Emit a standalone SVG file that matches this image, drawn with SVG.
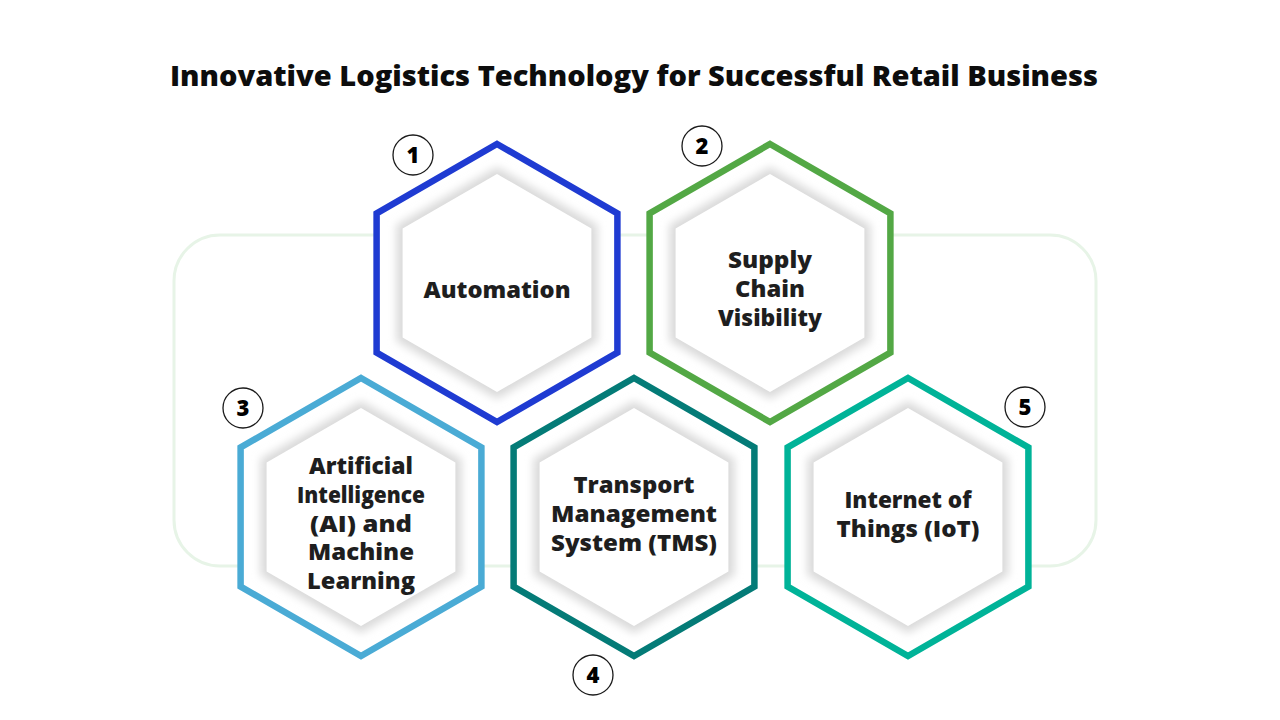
<svg xmlns="http://www.w3.org/2000/svg" width="1280" height="720" viewBox="0 0 1280 720">
<defs>
<style>
.title{font-family:"Open Sans","Liberation Sans",sans-serif;font-weight:800;font-size:28.5px;fill:#0d0d0d;text-anchor:middle}
.lbl{font-family:"Open Sans","Liberation Sans",sans-serif;font-weight:800;font-size:23.5px;fill:#1e1e1e;text-anchor:middle}
.lbl.s{font-size:22px}
.num{font-family:"Open Sans","Liberation Sans",sans-serif;font-weight:800;font-size:22px;fill:#000;text-anchor:middle}
.ncirc{fill:#fff;stroke:#1a1a1a;stroke-width:1.3}
.outer{fill:#fff;stroke-width:6.5;stroke-linejoin:miter}
.shade{fill:#dadada;filter:url(#blur)}
.inner{fill:#fff}
</style>
<filter id="blur" x="-20%" y="-20%" width="140%" height="140%"><feGaussianBlur stdDeviation="4.5"/></filter>
<path id="hexO" d="M0,-139 L120.4,-69.5 L120.4,69.5 L0,139 L-120.4,69.5 L-120.4,-69.5Z"/>
<path id="hexS" d="M0,-116 L100.5,-58 L100.5,58 L0,116 L-100.5,58 L-100.5,-58Z"/>
<path id="hexI" d="M0,-109 L94.4,-54.5 L94.4,54.5 L0,109 L-94.4,54.5 L-94.4,-54.5Z"/>
</defs>
<rect width="1280" height="720" fill="#fff"/>
<text class="title" x="634" y="86" textLength="928" lengthAdjust="spacingAndGlyphs">Innovative Logistics Technology for Successful Retail Business</text>
<rect id="frame" x="174" y="235" width="922" height="331" rx="46" ry="46" fill="none" stroke="#e7f4e7" stroke-width="3"/>

<g id="node1" transform="translate(497,283)">
<use href="#hexO" class="outer" stroke="#1f3bd2"/>
<use href="#hexS" class="shade"/>
<use href="#hexI" class="inner"/>
<text class="lbl" x="0" y="15" textLength="147" lengthAdjust="spacingAndGlyphs">Automation</text>
</g>
<g id="node2" transform="translate(770,283)">
<use href="#hexO" class="outer" stroke="#53a845"/>
<use href="#hexS" class="shade"/>
<use href="#hexI" class="inner"/>
<text class="lbl" x="0" y="-15" textLength="84" lengthAdjust="spacingAndGlyphs">Supply</text>
<text class="lbl" x="0" y="14" textLength="70" lengthAdjust="spacingAndGlyphs">Chain</text>
<text class="lbl" x="0" y="43" textLength="104" lengthAdjust="spacingAndGlyphs">Visibility</text>
</g>
<g id="node3" transform="translate(361,517)">
<use href="#hexO" class="outer" stroke="#4aabd5"/>
<use href="#hexS" class="shade"/>
<use href="#hexI" class="inner"/>
<text class="lbl s" x="0" y="-43" textLength="104" lengthAdjust="spacingAndGlyphs">Artificial</text>
<text class="lbl s" x="0" y="-14.25" textLength="128" lengthAdjust="spacingAndGlyphs">Intelligence</text>
<text class="lbl s" x="0" y="14.5" textLength="102" lengthAdjust="spacingAndGlyphs">(AI) and</text>
<text class="lbl s" x="0" y="43.25" textLength="106" lengthAdjust="spacingAndGlyphs">Machine</text>
<text class="lbl s" x="0" y="72" textLength="108" lengthAdjust="spacingAndGlyphs">Learning</text>
</g>
<g id="node4" transform="translate(634,517)">
<use href="#hexO" class="outer" stroke="#047b77"/>
<use href="#hexS" class="shade"/>
<use href="#hexI" class="inner"/>
<text class="lbl" x="0" y="-24" textLength="121" lengthAdjust="spacingAndGlyphs">Transport</text>
<text class="lbl" x="0" y="5" textLength="166" lengthAdjust="spacingAndGlyphs">Management</text>
<text class="lbl" x="0" y="34" textLength="166" lengthAdjust="spacingAndGlyphs">System (TMS)</text>
</g>
<g id="node5" transform="translate(908,517)">
<use href="#hexO" class="outer" stroke="#00b398"/>
<use href="#hexS" class="shade"/>
<use href="#hexI" class="inner"/>
<text class="lbl" x="0" y="-9" textLength="127" lengthAdjust="spacingAndGlyphs">Internet of</text>
<text class="lbl" x="0" y="20" textLength="143" lengthAdjust="spacingAndGlyphs">Things (IoT)</text>
</g>

<g id="badge1"><circle class="ncirc" cx="413" cy="155" r="20"/><text class="num" x="413" y="163">1</text></g>
<g id="badge2"><circle class="ncirc" cx="702" cy="146" r="20"/><text class="num" x="702" y="154">2</text></g>
<g id="badge3"><circle class="ncirc" cx="243" cy="408" r="20"/><text class="num" x="243" y="416">3</text></g>
<g id="badge4"><circle class="ncirc" cx="593" cy="675" r="20"/><text class="num" x="593" y="683">4</text></g>
<g id="badge5"><circle class="ncirc" cx="1025" cy="407" r="20"/><text class="num" x="1025" y="415">5</text></g>
<g id="connectors"/>
</svg>
